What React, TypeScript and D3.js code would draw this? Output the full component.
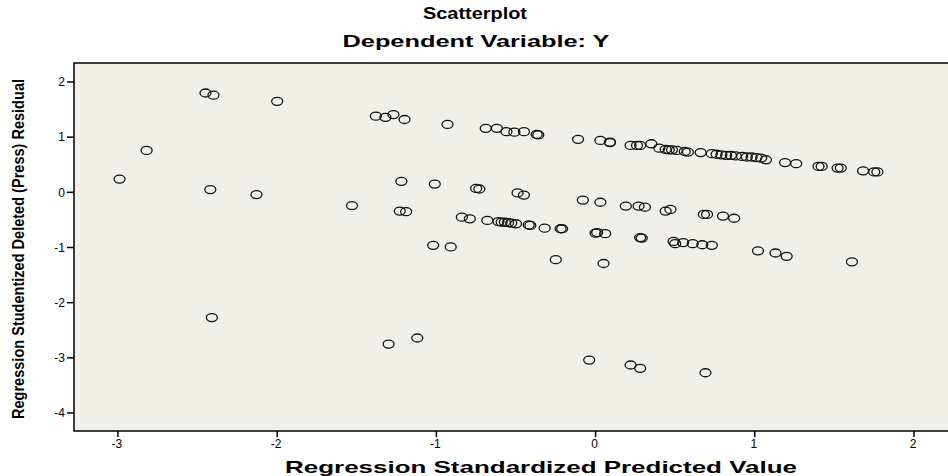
import { useEffect, useRef } from 'react';
import * as d3 from 'd3';

// predicted values (x) and deleted residuals (y)
const predicted = [
  -2.99, -2.82, -2.45, -2.4, -2.42, -2.41, -2.13, -2.0, -1.53, -1.38, -1.32, -1.27, -1.2, -1.22, -1.23,
  -1.19, -1.3, -1.12, -1.02, -1.01, -0.93, -0.91, -0.84, -0.79, -0.75, -0.73, -0.69, -0.68, -0.62, -0.61,
  -0.59, -0.57, -0.55, -0.53, -0.5, -0.56, -0.51, -0.49, -0.45, -0.45, -0.42, -0.41, -0.37, -0.36, -0.32,
  -0.25, -0.22, -0.21, -0.11, -0.08, -0.04, 0.0, 0.01, 0.03, 0.03, 0.05, 0.06, 0.09, 0.09, 0.19, 0.22,
  0.22, 0.26, 0.27, 0.28, 0.28, 0.28, 0.29, 0.31, 0.35, 0.4, 0.44, 0.44, 0.46, 0.47, 0.48, 0.49, 0.5,
  0.51, 0.55, 0.56, 0.58, 0.61, 0.66, 0.67, 0.68, 0.69, 0.7, 0.73, 0.73, 0.76, 0.79, 0.82, 0.85, 0.88,
  0.92, 0.95, 0.98, 1.01, 1.04, 0.8, 0.87, 1.02, 1.07, 1.13, 1.19, 1.2, 1.26, 1.4, 1.42, 1.52, 1.54,
  1.61, 1.68, 1.75, 1.77,
];
const residual = [
  0.24, 0.76, 1.8, 1.76, 0.05, -2.27, -0.04, 1.65, -0.24, 1.38, 1.36, 1.41, 1.32, 0.2, -0.34, -0.35,
  -2.75, -2.64, -0.96, 0.15, 1.23, -0.99, -0.45, -0.48, 0.07, 0.06, 1.16, -0.51, 1.16, -0.53, -0.54,
  -0.54, -0.55, -0.56, -0.57, 1.1, 1.09, -0.01, -0.05, 1.1, -0.59, -0.6, 1.05, 1.04, -0.65, -1.22, -0.66,
  -0.66, 0.96, -0.14, -3.04, -0.74, -0.73, 0.94, -0.18, -1.29, -0.75, 0.91, 0.9, -0.25, 0.85, -3.13,
  0.85, -0.25, 0.85, -3.19, -0.82, -0.83, -0.27, 0.88, 0.8, 0.78, -0.34, 0.77, -0.31, 0.77, -0.89, -0.93,
  0.76, -0.91, 0.74, 0.73, -0.93, 0.72, -0.95, -0.4, -3.27, -0.4, -0.96, 0.7, 0.69, 0.68, 0.67, 0.67,
  0.66, 0.65, 0.64, 0.64, 0.63, 0.62, -0.43, -0.47, -1.06, 0.59, -1.1, 0.54, -1.16, 0.52, 0.47, 0.47,
  0.44, 0.44, -1.26, 0.39, 0.37, 0.37,
];
const xTicks = [-3, -2, -1, 0, 1, 2];
const yTicks = [2, 1, 0, -1, -2, -3, -4];

const W = 948;
const H = 476;

export default function App() {
  const svgRef = useRef<SVGSVGElement | null>(null);

  useEffect(() => {
    const svg = d3.select(svgRef.current);
    svg.selectAll('*').remove();

    const left = 74;
    const right = 950;
    const top = 63;
    const bottom = 431;

    const x = d3.scaleLinear().domain([-3.276, 2.226]).range([left, right]);
    const y = d3.scaleLinear().domain([2.344, -4.326]).range([top, bottom]);

    svg
      .append('rect')
      .attr('x', left)
      .attr('y', top)
      .attr('width', right - left)
      .attr('height', bottom - top)
      .attr('fill', '#f0efea')
      .attr('stroke', '#000')
      .attr('stroke-width', 1.5);

    // titles
    svg
      .append('text')
      .attr('x', 475)
      .attr('y', 19)
      .attr('text-anchor', 'middle')
      .attr('font-family', 'Liberation Sans, Arial, sans-serif')
      .attr('font-weight', 'bold')
      .attr('font-size', 16)
      .attr('textLength', 104)
      .attr('lengthAdjust', 'spacingAndGlyphs')
      .text('Scatterplot');

    svg
      .append('text')
      .attr('x', 476)
      .attr('y', 47)
      .attr('text-anchor', 'middle')
      .attr('font-family', 'Liberation Sans, Arial, sans-serif')
      .attr('font-weight', 'bold')
      .attr('font-size', 17)
      .attr('textLength', 267)
      .attr('lengthAdjust', 'spacingAndGlyphs')
      .text('Dependent Variable: Y');

    // x axis
    const xAxis = svg.append('g');
    xTicks.forEach((t) => {
      xAxis
        .append('line')
        .attr('x1', x(t))
        .attr('x2', x(t))
        .attr('y1', bottom)
        .attr('y2', bottom + 6)
        .attr('stroke', '#000')
        .attr('stroke-width', 1.5);
      xAxis
        .append('text')
        .attr('x', x(t) - 1)
        .attr('y', bottom + 17)
        .attr('text-anchor', 'middle')
        .attr('font-family', 'Liberation Sans, Arial, sans-serif')
        .attr('font-size', 12)
        .text(t);
    });

    // y axis
    const yAxis = svg.append('g');
    yTicks.forEach((t) => {
      yAxis
        .append('line')
        .attr('x1', left - 7)
        .attr('x2', left)
        .attr('y1', y(t))
        .attr('y2', y(t))
        .attr('stroke', '#000')
        .attr('stroke-width', 1.5);
      yAxis
        .append('text')
        .attr('x', left - 9)
        .attr('y', y(t))
        .attr('dy', '0.35em')
        .attr('text-anchor', 'end')
        .attr('font-family', 'Liberation Sans, Arial, sans-serif')
        .attr('font-size', 12)
        .text(t);
    });

    svg
      .append('text')
      .attr('x', 541)
      .attr('y', 473)
      .attr('text-anchor', 'middle')
      .attr('font-family', 'Liberation Sans, Arial, sans-serif')
      .attr('font-weight', 'bold')
      .attr('font-size', 17)
      .attr('textLength', 512)
      .attr('lengthAdjust', 'spacingAndGlyphs')
      .text('Regression Standardized Predicted Value');

    svg
      .append('text')
      .attr('transform', `translate(24,${(top + bottom) / 2 + 2}) rotate(-90)`)
      .attr('text-anchor', 'middle')
      .attr('font-family', 'Liberation Sans Narrow, Liberation Sans, Arial, sans-serif')
      .attr('font-weight', 'bold')
      .attr('font-size', 17)
      .attr('textLength', 340)
      .attr('lengthAdjust', 'spacingAndGlyphs')
      .text('Regression Studentized Deleted (Press) Residual');

    // points
    svg
      .append('g')
      .selectAll('ellipse')
      .data(d3.range(predicted.length))
      .join('ellipse')
      .attr('cx', (i) => x(predicted[i]))
      .attr('cy', (i) => y(residual[i]))
      .attr('rx', 5.5)
      .attr('ry', 4)
      .attr('fill', 'none')
      .attr('stroke', '#111')
      .attr('stroke-width', 1.3);
  }, []);

  return (
    <svg
      ref={svgRef}
      width={W}
      height={H}
      style={{ position: 'absolute', left: 0, top: 0, background: '#fff' }}
    />
  );
}
